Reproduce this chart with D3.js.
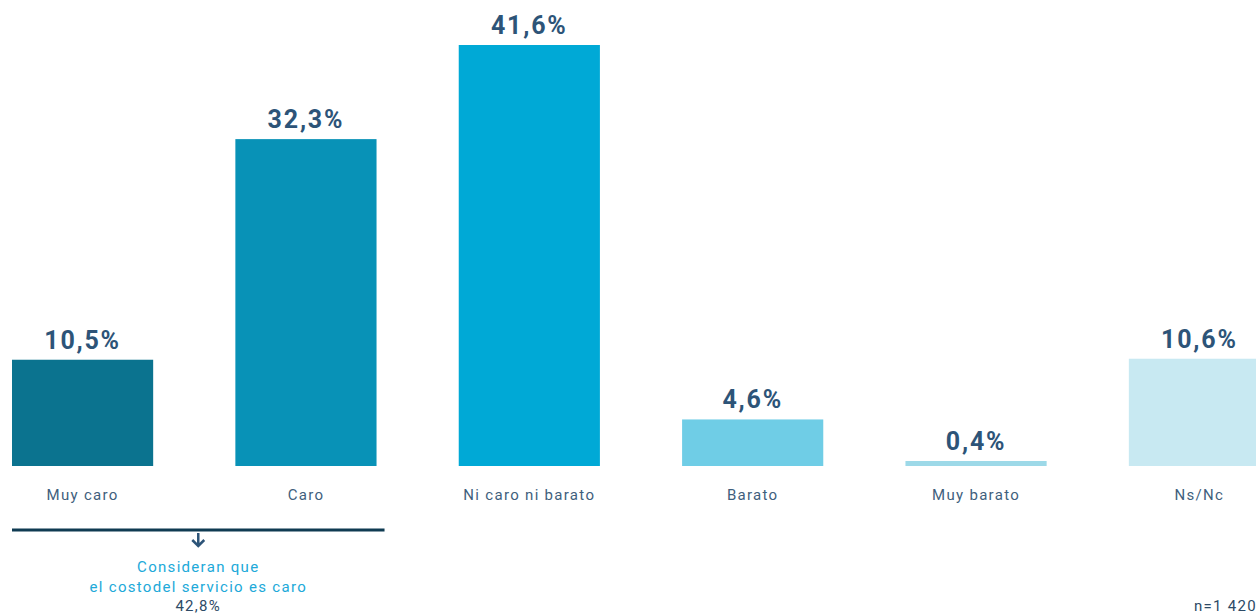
<!DOCTYPE html>
<html>
<head>
<meta charset="utf-8">
<script src="https://cdn.jsdelivr.net/npm/d3@7"></script>
<style>
  body { margin: 0; background: #fff; }
  svg { display: block; }
</style>
</head>
<body>
<script>
var categories = ['Muy caro', 'Caro', 'Ni caro ni barato', 'Barato', 'Muy barato', 'Ns/Nc'];
var values = [10.5, 32.3, 41.6, 4.6, 0.4, 10.6];
var colors = ['#0b738f', '#0892b7', '#00a9d6', '#6fcde6', '#9dd9e8', '#c8e9f2'];
var valueLabels = ['10,5%', '32,3%', '41,6%', '4,6%', '0,4%', '10,6%'];
var noteLines = ['Consideran que', 'el costodel servicio es caro'];
var noteValue = '42,8%';
var sampleText = 'n=1 420';

var w = 1256;
var h = 614;
var baseline = 466;

var svg = d3.select('body')
  .append('svg')
  .attr('width', w)
  .attr('height', h);

var x = d3.scaleBand()
  .domain(categories)
  .range([12, 1270])
  .paddingInner(0.368)
  .paddingOuter(0);

var y = d3.scaleLinear()
  .domain([0, 41.6])
  .range([baseline, 45]);

var data = categories.map(function(c, i) {
  return { cat: c, val: values[i], color: colors[i], label: valueLabels[i] };
});

// bars (tiny values get a minimum visible height)
svg.selectAll('rect.bar')
  .data(data)
  .enter()
  .append('rect')
  .attr('class', 'bar')
  .attr('x', function(d) { return x(d.cat); })
  .attr('y', function(d) { return Math.min(y(d.val), baseline - 5); })
  .attr('width', x.bandwidth())
  .attr('height', function(d) { return Math.max(baseline - y(d.val), 5); })
  .attr('fill', function(d) { return d.color; });

// value labels
svg.selectAll('text.val')
  .data(data)
  .enter()
  .append('text')
  .attr('class', 'val')
  .attr('x', function(d) { return x(d.cat) + x.bandwidth() / 2; })
  .attr('y', function(d) { return Math.min(y(d.val), baseline - 5) - 11; })
  .attr('text-anchor', 'middle')
  .attr('font-family', 'Roboto, sans-serif')
  .attr('font-weight', 'bold')
  .attr('font-size', 25)
  .attr('letter-spacing', 1.8)
  .attr('fill', '#2d5478')
  .text(function(d) { return d.label; });

// category labels
svg.selectAll('text.cat')
  .data(data)
  .enter()
  .append('text')
  .attr('class', 'cat')
  .attr('x', function(d) { return x(d.cat) + x.bandwidth() / 2; })
  .attr('y', 500)
  .attr('text-anchor', 'middle')
  .attr('font-family', 'Roboto, sans-serif')
  .attr('font-size', 15)
  .attr('letter-spacing', 1.3)
  .attr('fill', '#3f5f7d')
  .text(function(d) { return d.cat; });

// bracket under the first two bars
var bx0 = x(categories[0]);
var bx1 = x(categories[1]) + x.bandwidth() + 8;
var bmid = (bx0 + bx1) / 2;
svg.append('line')
  .attr('x1', bx0).attr('x2', bx1)
  .attr('y1', 530).attr('y2', 530)
  .attr('stroke', '#0f3b52')
  .attr('stroke-width', 3);

svg.append('path')
  .attr('d', 'M' + bmid + ',533 L' + bmid + ',546 M' + (bmid - 6) + ',540 L' + bmid + ',546 L' + (bmid + 6) + ',540')
  .attr('fill', 'none')
  .attr('stroke', '#2d5478')
  .attr('stroke-width', 2.5);

svg.selectAll('text.note')
  .data(noteLines)
  .enter()
  .append('text')
  .attr('class', 'note')
  .attr('x', bmid)
  .attr('y', function(d, i) { return 572 + i * 20; })
  .attr('text-anchor', 'middle')
  .attr('font-family', 'Roboto, sans-serif')
  .attr('font-size', 15)
  .attr('letter-spacing', 1.3)
  .attr('fill', '#21a9d9')
  .text(function(d) { return d; });

svg.append('text')
  .attr('x', bmid)
  .attr('y', 611)
  .attr('text-anchor', 'middle')
  .attr('font-family', 'Roboto, sans-serif')
  .attr('font-size', 15)
  .attr('letter-spacing', 1.3)
  .attr('fill', '#2d4a66')
  .text(noteValue);

svg.append('text')
  .attr('x', 1194)
  .attr('y', 611)
  .attr('font-family', 'Roboto, sans-serif')
  .attr('font-size', 15)
  .attr('letter-spacing', 1.3)
  .attr('fill', '#2d4a66')
  .text(sampleText);
</script>
</body>
</html>
